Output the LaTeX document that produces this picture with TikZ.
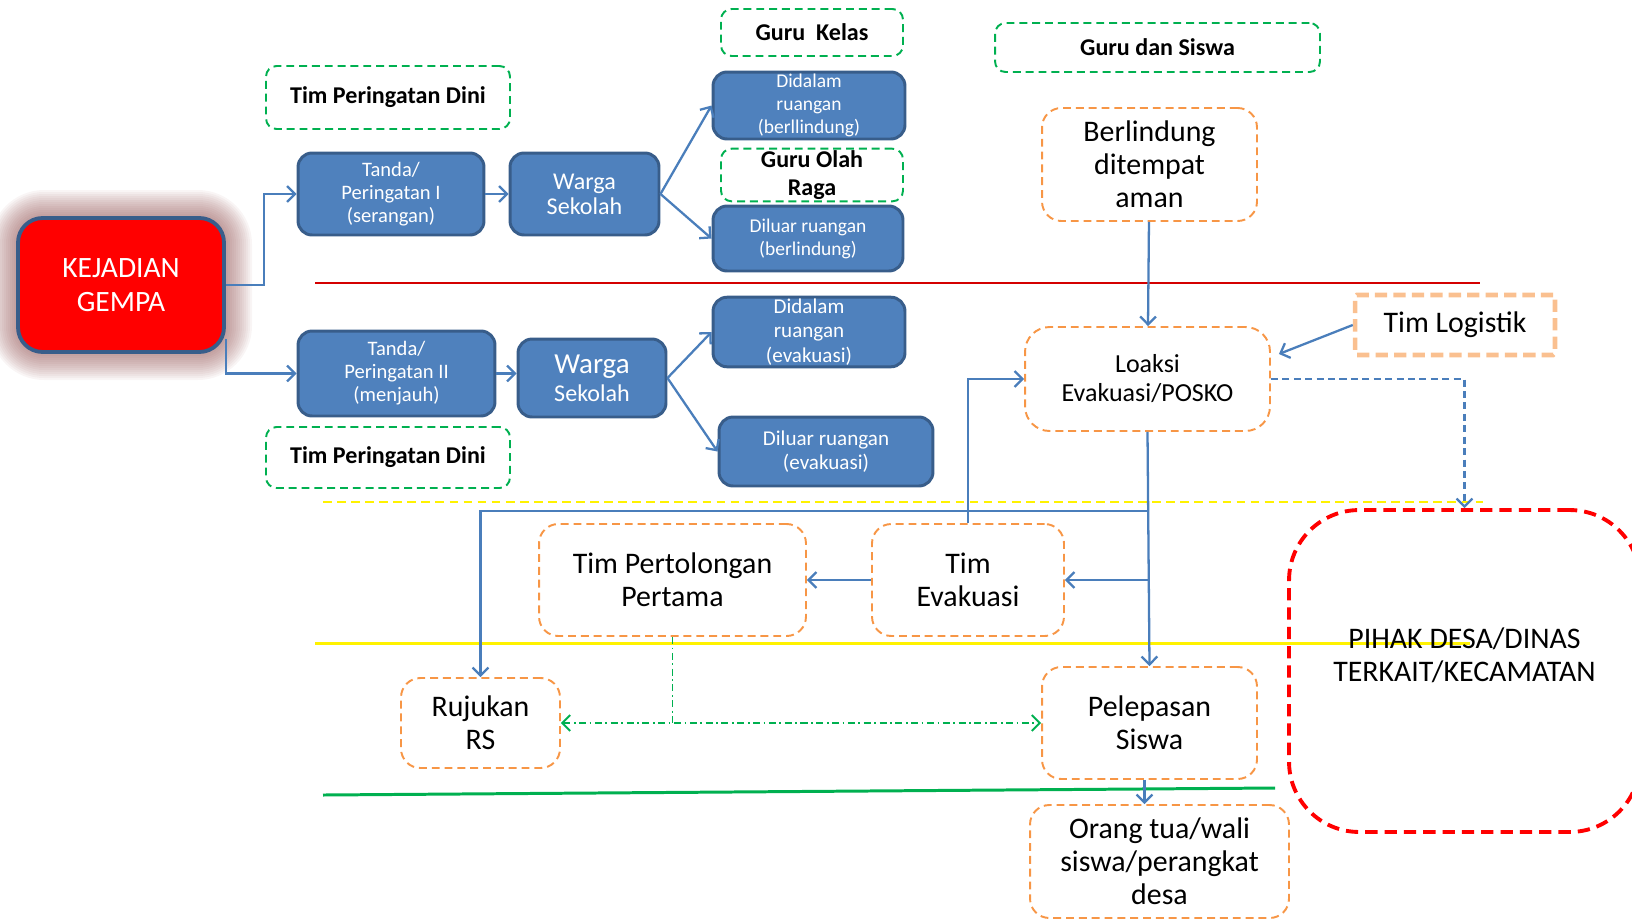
\documentclass[tikz,border=0pt]{standalone}
\usepackage{fontspec}
\setmainfont{Carlito}
\usetikzlibrary{arrows.meta}

\definecolor{boxblue}{HTML}{4F81BD}
\definecolor{boxedge}{HTML}{385D8A}
\definecolor{lineblue}{HTML}{4A7EBB}
\definecolor{grn}{HTML}{00B050}
\definecolor{org}{HTML}{F79646}
\definecolor{logi}{HTML}{FAC090}
\definecolor{glow}{HTML}{8E4C4C}
\definecolor{redline}{HTML}{D40000}

\tikzset{
  bluebox/.style={draw=boxedge, fill=boxblue, line width=1.7pt, rounded corners=8pt,
    text=white, align=center, inner sep=1pt},
  greenbox/.style={draw=grn, line width=1.1pt, dash pattern=on 4.5pt off 2.8pt,
    rounded corners=6pt, align=center, inner sep=1pt,
    font=\fontsize{13.7}{16}\selectfont\bfseries},
  orangebox/.style={draw=org, line width=1.1pt, dash pattern=on 4.5pt off 2.8pt,
    rounded corners=11pt, align=center, inner sep=1pt,
    font=\fontsize{17}{18.8}\selectfont},
  arr/.style={draw=lineblue, line width=1.3pt, -{Straight Barb[length=4.5pt,width=9pt]}},
  smallfont/.style={font=\fontsize{11.1}{13.1}\selectfont},
  midfont/.style={font=\fontsize{12}{13.8}\selectfont},
}

\begin{document}
\begin{tikzpicture}[x=0.02cm, y=-0.02cm]
    \useasboundingbox (0,0) rectangle (1632,920);

    % glow round the event
    \foreach \g in {1,...,14}
        \fill[glow, opacity=0.055, rounded corners=14pt+\g*1.2pt]
            (18-\g*2,218-\g*2) rectangle (224+\g*2,352+\g*2);

    % separator lines
    \draw[redline, line width=1.4pt] (315,283) -- (1480,283);
    \draw[yellow, line width=1.1pt, dash pattern=on 5pt off 3pt] (323,502) -- (1483,502);
    \draw[yellow, line width=1.7pt] (315,643) -- (1470,643);
    \draw[grn, line width=1.7pt] (323,795) -- (1275,788);

    % event
    \node[bluebox, fill=red, line width=2.2pt, rounded corners=14pt,
        minimum width=4.12cm, minimum height=2.68cm,
        font=\fontsize{16.8}{19.3}\selectfont] (kejadian) at (121,285) {KEJADIAN\\GEMPA};

    % first warning
    \node[greenbox, minimum width=4.88cm, minimum height=1.26cm] (dini1) at (388,97.5) {Tim Peringatan Dini};
    \node[bluebox, minimum width=3.72cm, minimum height=1.64cm,
        font=\fontsize{11.7}{13.1}\selectfont] (tanda1) at (391,194) {Tanda/\\Peringatan I\\(serangan)};
    \node[bluebox, minimum width=2.98cm, minimum height=1.64cm,
        font=\fontsize{13.7}{14.2}\selectfont] (warga1) at (584.5,194) {Warga\\Sekolah};
    \node[greenbox, minimum width=3.64cm, minimum height=0.94cm] (gurukelas) at (812,32.5) {Guru~~Kelas};
    \node[bluebox, smallfont, minimum width=3.84cm, minimum height=1.34cm] (didalam1) at (809,105.5) {Didalam\\ruangan\\(berllindung)};
    \node[greenbox, minimum width=3.64cm, minimum height=0.92cm] (guruolah) at (812,175) {Guru Olah\\Raga};
    \node[bluebox, smallfont, minimum width=3.80cm, minimum height=1.30cm] (diluar1) at (808,238.5) {Diluar ruangan\\(berlindung)};

    % second warning
    \node[bluebox, minimum width=3.94cm, minimum height=1.70cm,
        font=\fontsize{11.7}{13.1}\selectfont] (tanda2) at (396.5,373.5) {Tanda/\\Peringatan II\\(menjauh)};
    \node[greenbox, minimum width=4.88cm, minimum height=1.22cm] (dini2) at (388,457.5) {Tim Peringatan Dini};
    \node[bluebox, minimum width=2.96cm, minimum height=1.56cm,
        font=\fontsize{13.7}{16}\selectfont] (warga2) at (592,378) {{\fontsize{16.5}{16}\selectfont Warga}\\Sekolah};
    \node[bluebox, midfont, minimum width=3.84cm, minimum height=1.36cm] (didalam2) at (809,332) {Didalam\\ruangan\\(evakuasi)};
    \node[bluebox, midfont, minimum width=4.28cm, minimum height=1.38cm] (diluar2) at (826,451.5) {Diluar ruangan\\(evakuasi)};

    % right column
    \node[greenbox, minimum width=6.50cm, minimum height=0.98cm] (gurusiswa) at (1157.5,47.5) {Guru dan Siswa};
    \node[orangebox, minimum width=4.30cm, minimum height=2.26cm] (berlindung) at (1149.5,164.5) {Berlindung\\ditempat\\aman};
    \node[orangebox, rounded corners=14pt, minimum width=4.90cm, minimum height=2.08cm,
        font=\fontsize{14.8}{16.5}\selectfont] (loaksi) at (1147.5,379) {Loaksi\\Evakuasi/POSKO};
    \node[orangebox, draw=logi, line width=2.6pt, rounded corners=1pt, dash pattern=on 7pt off 3.5pt,
        minimum width=4.00cm, minimum height=1.20cm] (logistik) at (1455,325) {Tim Logistik};
    \node[orangebox, draw=red, line width=2.2pt, rounded corners=40pt, dash pattern=on 7pt off 4pt,
        minimum width=7.02cm, minimum height=6.44cm] (pihak) at (1464.5,671)
        {PIHAK DESA/DINAS\\TERKAIT/KECAMATAN\\\mbox{}};

    % teams
    \node[orangebox, minimum width=5.34cm, minimum height=2.24cm] (pertolongan) at (672.5,580) {Tim Pertolongan\\Pertama};
    \node[orangebox, minimum width=3.84cm, minimum height=2.24cm] (evakuasi) at (968,580) {Tim\\Evakuasi};
    \node[orangebox, minimum width=3.18cm, minimum height=1.80cm] (rujukan) at (480.5,723) {Rujukan\\RS};
    \node[orangebox, minimum width=4.30cm, minimum height=2.24cm] (pelepasan) at (1149.5,723) {Pelepasan\\Siswa};
    \node[orangebox, minimum width=5.18cm, minimum height=2.26cm] (orangtua) at (1159.5,861.5) {Orang tua/wali\\siswa/perangkat\\desa};

    \coordinate (split) at (loaksi.south |- 0,511);
    \coordinate (split2) at (loaksi.south |- evakuasi.east);

    % arrows
    \draw[arr] (kejadian.east) -- ++(38,0) |- (tanda1.west);
    \draw[arr] ([yshift=0.3cm]kejadian.south east) |- (tanda2.west);
    \draw[arr] (tanda1) -- (warga1);
    \draw[arr] (tanda2.east) -- (tanda2.east -| warga2.west);
    \draw[arr] (warga1.east) -- (didalam1.west);
    \draw[arr] (warga1.east) -- (diluar1.west);
    \draw[arr] (warga2.east) -- (didalam2.west);
    \draw[arr] (warga2.east) -- (diluar2.west);

    \draw[arr] (berlindung) -- (loaksi);
    \draw[arr] (logistik.west) -- ([shift={(8,-25)}]loaksi.east);
    \draw[arr, dash pattern=on 4pt off 2.5pt] (loaksi.east) -| (pihak.north);
    \draw[arr] (loaksi.south) -- (pelepasan.north);
    \draw[arr] (split) -| (rujukan.north);
    \draw[arr] (split2) -- (evakuasi.east);
    \draw[arr] (evakuasi.north) |- (loaksi.west);
    \draw[arr] (evakuasi.west) -- (pertolongan.east);
    \draw[arr] ([xshift=-0.1cm]pelepasan.south) -- ([xshift=-0.1cm]pelepasan.south |- orangtua.north);

    % dash dot link
    \draw[grn, line width=1.1pt, dash pattern=on 4pt off 2pt on 1pt off 2pt]
        (pertolongan.south) -- (pertolongan.south |- rujukan.east);
    \draw[grn, line width=1.1pt, dash pattern=on 4pt off 2pt on 1pt off 2pt,
        {Straight Barb[length=4.5pt,width=9pt]}-{Straight Barb[length=4.5pt,width=9pt]}]
        (rujukan.east) -- (pelepasan.west);

\end{tikzpicture}
\end{document}
